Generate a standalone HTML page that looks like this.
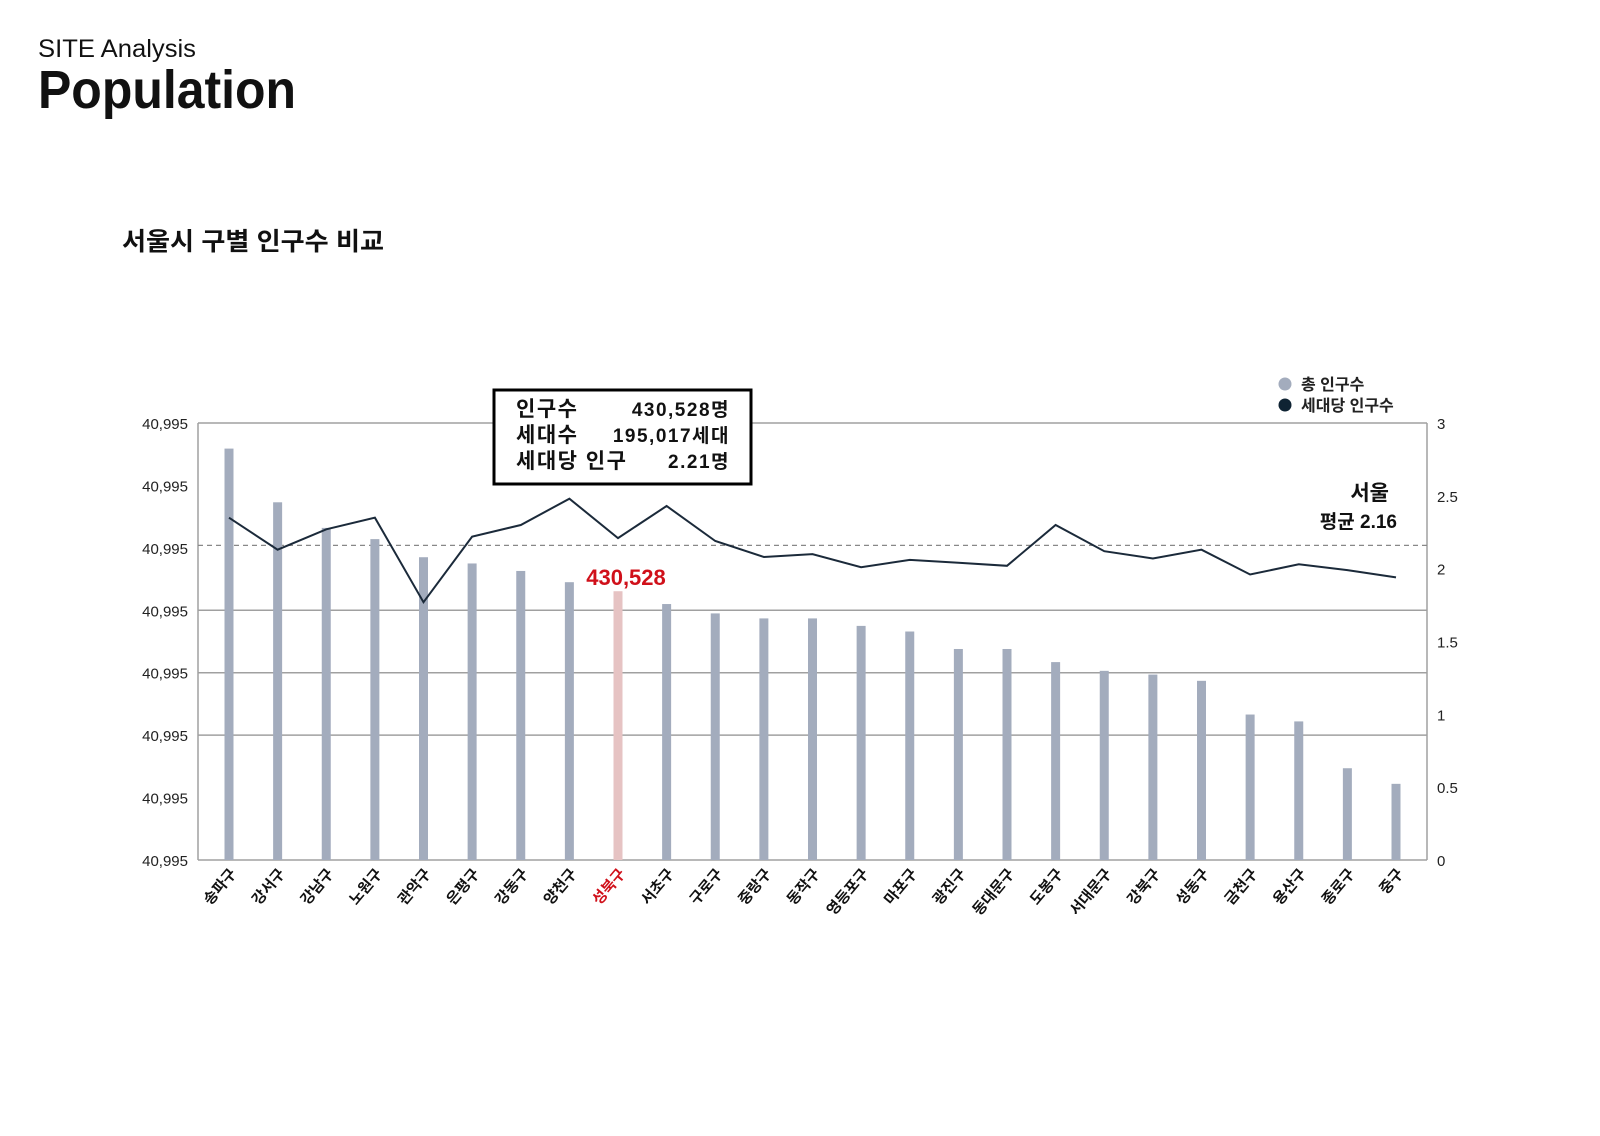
<!DOCTYPE html>
<html><head><meta charset="utf-8">
<style>
body{margin:0;width:1600px;height:1131px;background:#fff;overflow:hidden;font-family:"Liberation Sans","Noto Sans CJK KR",sans-serif;}
svg text{font-family:"Liberation Sans","Noto Sans CJK KR",sans-serif;}
</style></head>
<body>
<svg id="chart" width="1600" height="1131" viewBox="0 0 1600 1131" xmlns="http://www.w3.org/2000/svg">
<text x="38" y="57" font-size="25" fill="#111" textLength="158" lengthAdjust="spacingAndGlyphs">SITE Analysis</text>
<text x="38" y="108" font-size="54" font-weight="bold" fill="#111" textLength="258" lengthAdjust="spacingAndGlyphs">Population</text>
<text x="122" y="250" font-size="25" font-weight="bold" fill="#111" textLength="262" lengthAdjust="spacingAndGlyphs">서울시 구별 인구수 비교</text>
<g id="grid"></g>
<g id="bars"></g>
<g id="line"></g>
<g id="axes"></g>
<g>
<rect x="494" y="390" width="257" height="94" fill="#fff" stroke="#000" stroke-width="3"/>
<text x="516" y="416" font-size="21" font-weight="bold" fill="#111" letter-spacing="1.5">인구수</text>
<text x="730" y="416" font-size="19" font-weight="bold" fill="#111" text-anchor="end" letter-spacing="1.5">430,528명</text>
<text x="516" y="442" font-size="21" font-weight="bold" fill="#111" letter-spacing="1.5">세대수</text>
<text x="730" y="442" font-size="19" font-weight="bold" fill="#111" text-anchor="end" letter-spacing="1.5">195,017세대</text>
<text x="516" y="468" font-size="21" font-weight="bold" fill="#111" letter-spacing="1.5">세대당 인구</text>
<text x="730" y="468" font-size="19" font-weight="bold" fill="#111" text-anchor="end" letter-spacing="1.5">2.21명</text>
</g>
<g>
<circle cx="1285" cy="384" r="6.5" fill="#a3acbd"/>
<text x="1301" y="390" font-size="16" font-weight="bold" fill="#222">총 인구수</text>
<circle cx="1285" cy="405" r="6.5" fill="#0f2333"/>
<text x="1301" y="411" font-size="16" font-weight="bold" fill="#222">세대당 인구수</text>
</g>
<text x="1389" y="500" font-size="21" font-weight="bold" fill="#111" text-anchor="end">서울</text>
<text x="1397" y="528" font-size="19" font-weight="bold" fill="#111" text-anchor="end">평균 2.16</text>
</svg>
<script>
const categories=["송파구","강서구","강남구","노원구","관악구","은평구","강동구","양천구","성북구","서초구","구로구","중랑구","동작구","영등포구","마포구","광진구","동대문구","도봉구","서대문구","강북구","성동구","금천구","용산구","종로구","중구"];
const population=[659000,573000,532000,514000,485000,475000,463000,445000,430528,410000,395000,387000,387000,375000,366000,338000,338000,317000,303000,297000,287000,233000,222000,147000,122000];
const perHousehold=[2.35,2.13,2.27,2.35,1.77,2.22,2.30,2.48,2.21,2.43,2.19,2.08,2.10,2.01,2.06,2.04,2.02,2.30,2.12,2.07,2.13,1.96,2.03,1.99,1.94];
const leftTicks=[0,100000,200000,300000,400000,500000,600000,700000];
const leftTickLabels=["40,995","40,995","40,995","40,995","40,995","40,995","40,995","40,995"];
const rightTicks=[0,0.5,1,1.5,2,2.5,3];
const rightTickLabels=["0","0.5","1","1.5","2","2.5","3"];
const gridValues=[0,200000,300000,400000,700000];
const seoulAverage=2.16;
const highlight="성북구";

const NS="http://www.w3.org/2000/svg";
const L=198,R=1427,T=423,B=860;
const yL=v=>B-(v/700000)*(B-T);
const yR=v=>B-(v/3)*(B-T);
const xC=i=>L+31+i*((R-L-62)/(categories.length-1));
function mk(tag,attrs,parent){const e=document.createElementNS(NS,tag);for(const k in attrs)e.setAttribute(k,attrs[k]);parent.appendChild(e);return e;}
const grid=document.getElementById('grid'),bars=document.getElementById('bars'),line=document.getElementById('line'),axes=document.getElementById('axes');

gridValues.forEach(v=>{
  const g=mk('line',{x1:L,x2:R,y1:yL(v),y2:yL(v),stroke:'#a0a0a0','stroke-width':1.5},grid);
  
  
});
const lf=mk('line',{x1:L,x2:L,y1:T,y2:B,stroke:'#a0a0a0','stroke-width':1.5},grid);


const rf=mk('line',{x1:R,x2:R,y1:T,y2:B,stroke:'#a0a0a0','stroke-width':1.5},grid);


const avg=mk('line',{x1:L,x2:R,y1:yR(seoulAverage),y2:yR(seoulAverage),stroke:'#888','stroke-width':1.2,'stroke-dasharray':'5,4'},grid);



population.forEach((v,i)=>{
  const isH=categories[i]===highlight;
  const r=mk('rect',{x:xC(i)-4.5,y:yL(v),width:9,height:B-yL(v),fill:isH?'#e6c3c3':'#a3acbd'},bars);
  
  
  if(isH){
    const t=mk('text',{x:xC(i)+8,y:yL(v)-6,'font-size':22,'font-weight':'bold',fill:'#d0101a','text-anchor':'middle'},bars);
    t.textContent=v.toLocaleString('en-US');
    
    
  }
});

const pts=perHousehold.map((v,i)=>xC(i).toFixed(1)+','+yR(v).toFixed(1)).join(' ');
const pln=mk('polyline',{points:pts,fill:'none',stroke:'#1b2a3a','stroke-width':2},line);



leftTicks.forEach((v,i)=>{
  const t=mk('text',{x:188,y:yL(v)+6,'font-size':15,fill:'#222','text-anchor':'end'},axes);
  t.textContent=leftTickLabels[i];
  
  
});
rightTicks.forEach((v,i)=>{
  const t=mk('text',{x:1437,y:yR(v)+6,'font-size':15,fill:'#222'},axes);
  t.textContent=rightTickLabels[i];
  
  
});
categories.forEach((c,i)=>{
  const x=xC(i)+8,y=B+14;
  const t=mk('text',{x:x,y:y,'font-size':15,'font-weight':'bold',fill:c===highlight?'#d0101a':'#111','text-anchor':'end',transform:'rotate(-50 '+x+' '+y+')'},axes);
  t.textContent=c;
  
  
});
</script>
</body></html>
